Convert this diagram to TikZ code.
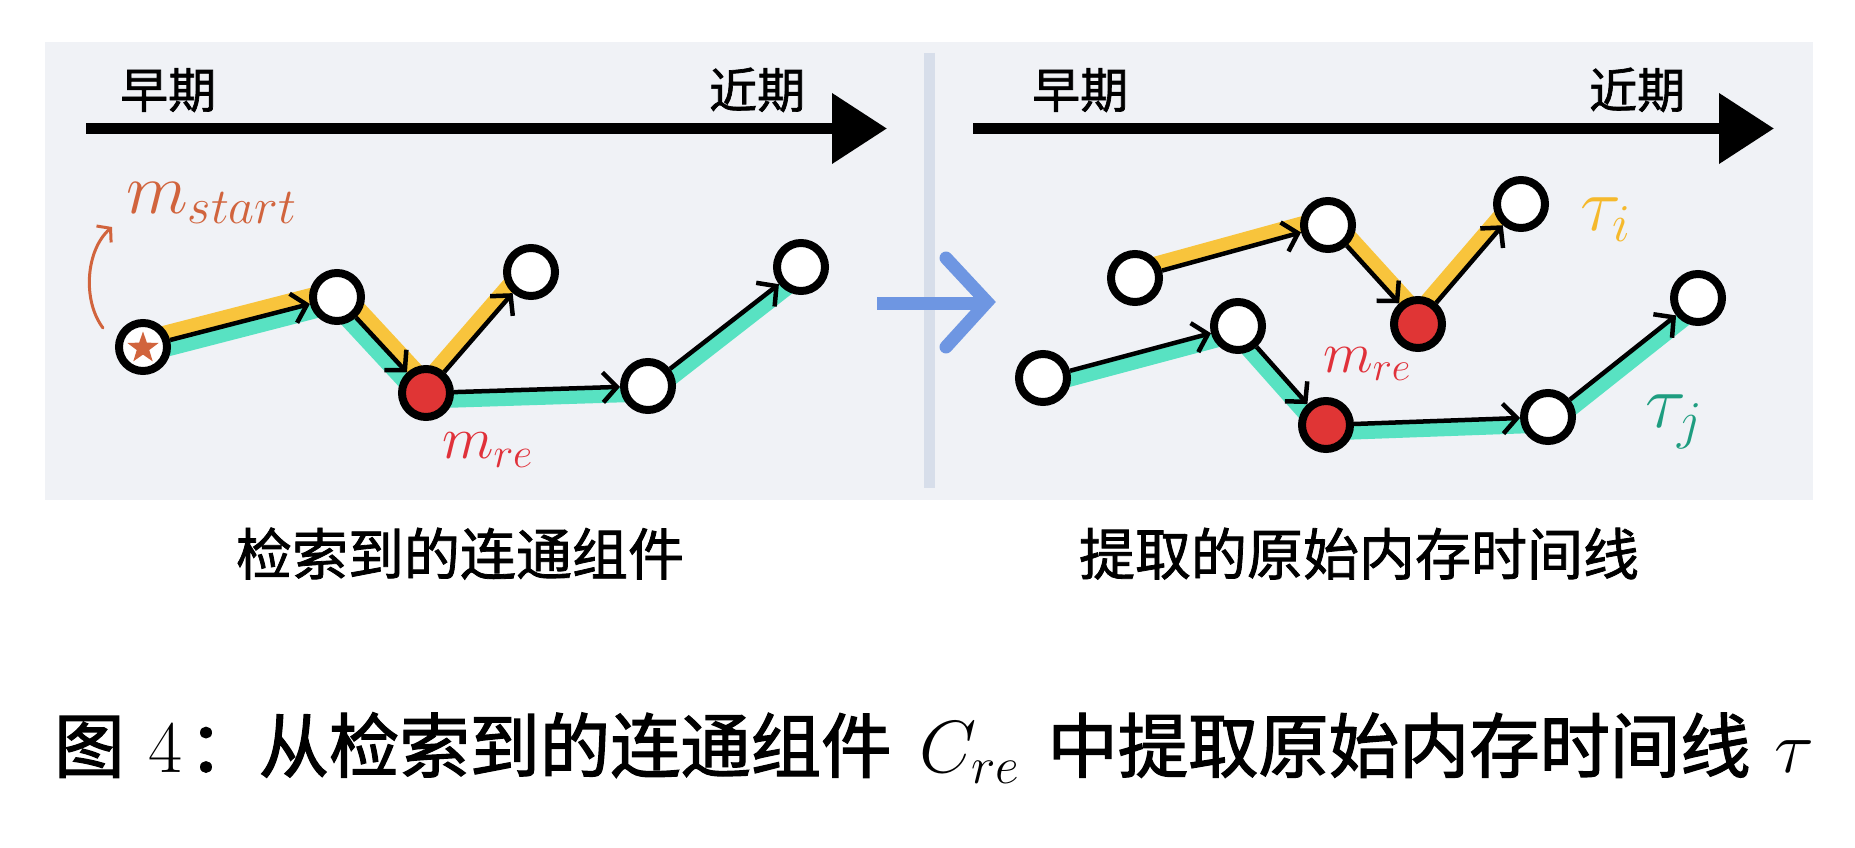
\RequirePackage{fix-cm}
\documentclass[tikz,border=0pt]{standalone}
\usepackage{fontspec}
\newfontfamily\cjk[FakeBold=1.4]{Noto Sans CJK SC}
\newfontfamily\cjkcap[FakeBold=1.8]{Noto Sans CJK SC}
\usetikzlibrary{arrows.meta,calc,shapes.geometric}
\pgfdeclarelayer{back}
\pgfdeclarelayer{mid}
\pgfsetlayers{back,mid,main}
\definecolor{panelbg}{HTML}{F0F2F6}
\definecolor{divider}{HTML}{D7DEEA}
\definecolor{bandY}{HTML}{F8C43C}
\definecolor{bandT}{HTML}{58E2C2}
\definecolor{nodeRed}{HTML}{E03535}
\definecolor{startC}{HTML}{D1643D}
\definecolor{reC}{HTML}{E0313A}
\definecolor{tauI}{HTML}{F5B92C}
\definecolor{tauJ}{HTML}{1E9D80}
\definecolor{blueA}{HTML}{6E96E2}
\newcommand{\capcjk}[1]{{\fontsize{70.3}{72}\selectfont\cjkcap #1}}
\tikzset{
  mem/.style={circle, draw=black, line width=8pt, fill=white, minimum size=48pt, inner sep=0pt},
  memre/.style={mem, fill=nodeRed},
  link/.style={line width=4.5pt, -{Straight Barb[length=14pt,width=30pt]}},
  band/.style={line width=15pt},
  timeline/.style={line width=11pt, -{Triangle[length=55pt,width=68pt]}},
  tlabel/.style={anchor=base west, inner sep=0pt, font=\fontsize{48}{50}\selectfont\cjk},
  pcap/.style={anchor=base, inner sep=0pt, font=\fontsize{56}{60}\selectfont\cjk},
  mlabel/.style={anchor=base west, inner sep=0pt},
}
% yellow band on left of travel, teal band on right of travel
\newcommand{\bandL}[2]{\draw[band,bandY] ($(#1)!8pt!90:(#2)$) -- ($(#2)!8pt!-90:(#1)$);}
\newcommand{\bandR}[2]{\draw[band,bandT] ($(#1)!8pt!-90:(#2)$) -- ($(#2)!8pt!90:(#1)$);}
\begin{document}
\begin{tikzpicture}[x=1pt,y=-1pt]
\useasboundingbox (0,0) rectangle (1855,848);
\begin{pgfonlayer}{back}
\fill[white] (0,0) rectangle (1855,848);
\fill[panelbg] (45,42) rectangle (1813,500);
\coordinate (dv1) at (929,53);
\coordinate (dv2) at (929,488);
\draw[divider, line width=11pt] (dv1) -- (dv2);
\end{pgfonlayer}

% blue arrow between panels
\coordinate (ba1) at (877,303);
\coordinate (ba2) at (988,303);
\coordinate (bc1) at (946,258);
\coordinate (bc2) at (987,302);
\coordinate (bc3) at (946,347);
\draw[blueA, line width=13pt] (ba1) -- (ba2);
\draw[blueA, line width=13pt, line cap=round, line join=miter] (bc1) -- (bc2) -- (bc3);

% timelines
\coordinate (tl1) at (86,128.5);
\coordinate (tl2) at (887,128.5);
\coordinate (tr1) at (973,128.5);
\coordinate (tr2) at (1774,128.5);
\draw[timeline] (tl1) -- (tl2);
\draw[timeline] (tr1) -- (tr2);
\node[tlabel] (e1) at (120,108) {早期};
\node[tlabel] (r1) at (709,108) {近期};
\node[tlabel] (e2) at (1032,108) {早期};
\node[tlabel] (r2) at (1589,108) {近期};

% left panel nodes
\node[mem] (s) at (143,347) {};
\node[star, star points=5, star point ratio=2.5, fill=startC, minimum size=33pt, inner sep=0pt] (sstar) at (143,348) {};
\node[mem] (l2) at (337,297) {};
\node[memre] (lre) at (426,393) {};
\node[mem] (l4) at (531,272) {};
\node[mem] (l5) at (648,386) {};
\node[mem] (l6) at (801,267) {};

% right panel nodes
\node[mem] (a1) at (1135,278) {};
\node[mem] (a2) at (1328,225) {};
\node[memre] (a3) at (1418,324) {};
\node[mem] (a4) at (1521,204) {};
\node[mem] (b1) at (1043,378) {};
\node[mem] (b2) at (1238,326) {};
\node[memre] (b3) at (1326,425) {};
\node[mem] (b4) at (1548,417) {};
\node[mem] (b5) at (1698,298) {};

\begin{pgfonlayer}{mid}
\bandL{s}{l2} \bandL{l2}{lre} \bandL{lre}{l4}
\bandR{s}{l2} \bandR{l2}{lre} \bandR{lre}{l5} \bandR{l5}{l6}
\bandL{a1}{a2} \bandL{a2}{a3} \bandL{a3}{a4}
\bandR{b1}{b2} \bandR{b2}{b3} \bandR{b3}{b4} \bandR{b4}{b5}
\end{pgfonlayer}

\draw[link] (s) -- (l2);
\draw[link] (l2) -- (lre);
\draw[link] (lre) -- (l4);
\draw[link] (lre) -- (l5);
\draw[link] (l5) -- (l6);
\draw[link] (a1) -- (a2);
\draw[link] (a2) -- (a3);
\draw[link] (a3) -- (a4);
\draw[link] (b1) -- (b2);
\draw[link] (b2) -- (b3);
\draw[link] (b3) -- (b4);
\draw[link] (b4) -- (b5);

% labels
\node[mlabel, text=startC] (mstart) at (126,213) {\fontsize{72}{76}\selectfont$m_{start}$};
\coordinate (ca1) at (103,328);
\coordinate (ca2) at (112,227);
\draw[startC, line width=3pt, line cap=round, -{Straight Barb[length=9pt,width=22pt]}] (ca1) .. controls (82,300) and (86,250) .. (ca2);
\node[mlabel, text=reC] (mreL) at (442,458) {\fontsize{60}{66}\selectfont$m_{re}$};
\node[mlabel, text=reC] (mreR) at (1323,372) {\fontsize{58}{64}\selectfont$m_{re}$};
\node[mlabel, text=tauI] (taui) at (1580,230) {\fontsize{76}{80}\selectfont$\tau_i$};
\node[mlabel, text=tauJ] (tauj) at (1645,427) {\fontsize{76}{80}\selectfont$\tau_j$};

% panel captions
\node[pcap] (capL) at (460,575) {检索到的连通组件};
\node[pcap] (capR) at (1359,575) {提取的原始内存时间线};

% figure caption
\node[anchor=base west, inner sep=0pt] (fig) at (54,772) {\fontsize{74}{78}\selectfont\capcjk{图}\hspace{24pt}$4$\hspace{6pt}\capcjk{：从检索到的连通组件}\hspace{28pt}$C_{re}$\hspace{28pt}\capcjk{中提取原始内存时间线}\hspace{24pt}$\tau$};
\end{tikzpicture}
\end{document}
